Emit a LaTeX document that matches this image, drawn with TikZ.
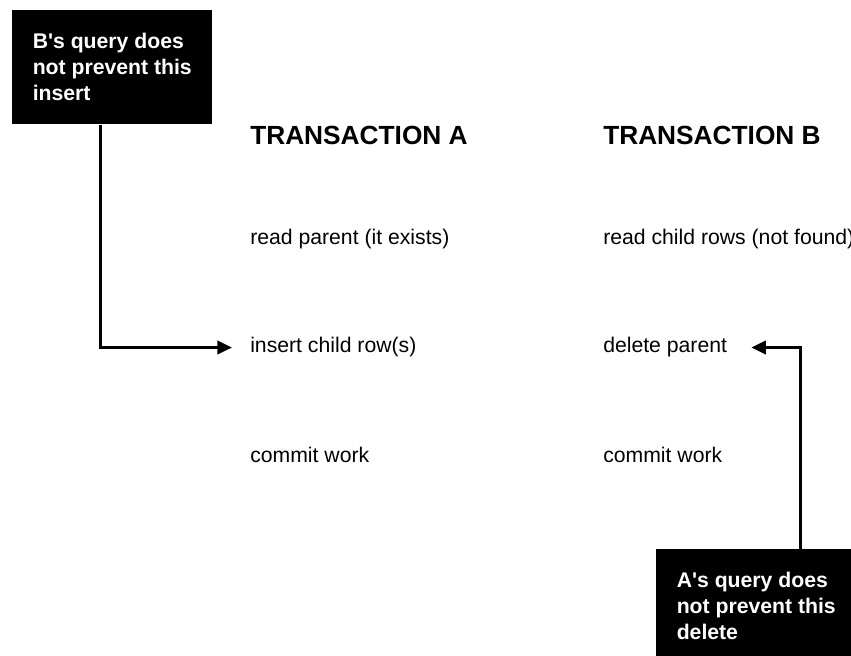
\documentclass[tikz,border=0pt]{standalone}
\usepackage{fontspec}
\setmainfont{Liberation Sans}
\usetikzlibrary{arrows.meta,calc}

\begin{document}
\begin{tikzpicture}[x=0.75pt,y=-0.75pt,
  steptxt/.style={anchor=base west,inner sep=0pt,font=\fontsize{15.9}{19}\selectfont},
  headtxt/.style={anchor=base west,inner sep=0pt,font=\fontsize{19.7}{24}\selectfont\bfseries},
  notebox/.style={anchor=north west,fill=black,text=white,align=left,inner sep=0pt,
    minimum width=150pt,minimum height=85.5pt,font=\fontsize{15.9}{19.5}\selectfont\bfseries},
  flow/.style={line width=2.25pt,-{Triangle[length=11pt,width=10pt]}}]
\useasboundingbox (0,0) rectangle (851,656);

\node[headtxt] (headA) at (250,145) {TRANSACTION A};
\node[headtxt] (headB) at (603,145) {TRANSACTION B};

\node[steptxt] (readA) at (250,245) {read parent (it exists)};
\node[steptxt] (insA) at (250,353) {insert child row(s)};
\node[steptxt] (commitA) at (250,463) {commit work};

\node[steptxt] (readB) at (603,245) {read child rows (not found)};
\node[steptxt] (delB) at (603,353) {delete parent};
\node[steptxt] (commitB) at (603,463) {commit work};

\node[notebox] (noteB) at (12,10) {B\textquotesingle s query does\\not prevent this\\insert};
\node[notebox] (noteA) at (656,549) {A\textquotesingle s query does\\not prevent this\\delete};

% the two arrows
\draw[flow] ($(noteB.south west)+(88,0)$) |- ([xshift=-13.5pt]insA.west);
\draw[flow] ($(noteA.north west)+(144,0)$) |- ([xshift=18pt]delB.east);

\end{tikzpicture}
\end{document}
